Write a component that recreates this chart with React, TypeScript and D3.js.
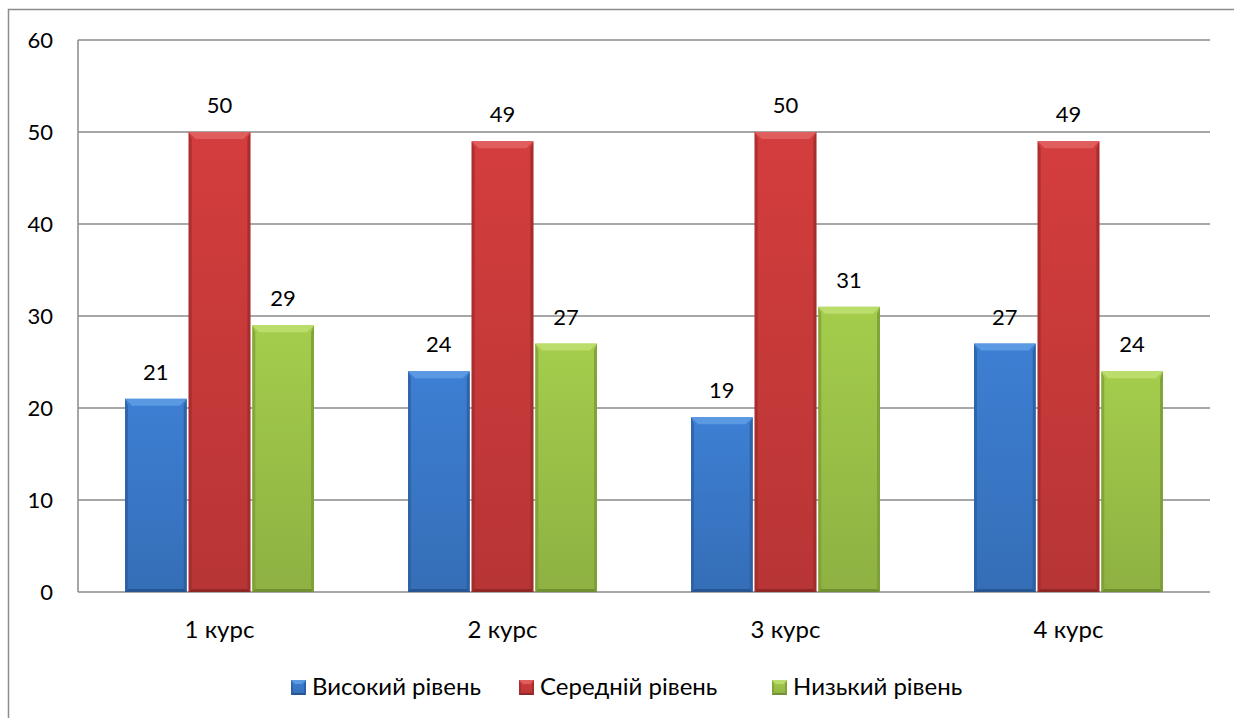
import React from 'react';
import * as d3 from 'd3';

const categories = ['1 курс', '2 курс', '3 курс', '4 курс'];
const seriesNames = ['Високий рівень', 'Середній рівень', 'Низький рівень'];
const highLevel = [21, 24, 19, 27];
const midLevel = [50, 49, 50, 49];
const lowLevel = [29, 27, 31, 24];
const yTicks = [0, 10, 20, 30, 40, 50, 60];

const palette = [
  { main: '#3a78c8', top: '#5b9ae2', side: '#2b5c9e', bottom: '#244f88' },
  { main: '#c93a3a', top: '#e05e5e', side: '#9c2b2b', bottom: '#862424' },
  { main: '#9bc248', top: '#bbdd6c', side: '#7a9a36', bottom: '#6a862e' },
];

const FONT = 'Lato, "Open Sans", sans-serif';

function Bevel({ x, y, w, h, c, id, b0 = 7, s = 3 }: { x: number; y: number; w: number; h: number; c: typeof palette[0]; id: string; b0?: number; s?: number }) {
  const b = Math.min(b0, h / 2);
  return (
    <g>
      <rect x={x} y={y} width={w} height={h} fill={`url(#${id})`} />
      <polygon points={`${x},${y} ${x + w},${y} ${x + w - b},${y + b} ${x + b},${y + b}`} fill={c.top} />
      <polygon points={`${x},${y} ${x + s},${y + b} ${x + s},${y + h - s} ${x},${y + h}`} fill={c.side} opacity={0.7} />
      <polygon points={`${x + w},${y} ${x + w - s},${y + b} ${x + w - s},${y + h - s} ${x + w},${y + h}`} fill={c.side} opacity={0.8} />
      <polygon points={`${x},${y + h} ${x + s},${y + h - s} ${x + w - s},${y + h - s} ${x + w},${y + h}`} fill={c.bottom} opacity={0.8} />
    </g>
  );
}

export default function App() {
  const width = 1234;
  const height = 718;
  const left = 78;
  const right = 1210;
  const top = 40;
  const bottom = 592;

  const data = [highLevel, midLevel, lowLevel];

  const y = d3.scaleLinear().domain([0, 60]).range([bottom, top]);
  const x0 = d3.scaleBand<string>().domain(categories).range([left, right]).padding(0);
  const bw = x0.bandwidth();
  const groupW = 189;
  const x1 = d3
    .scaleBand<string>()
    .domain(seriesNames)
    .range([(bw - groupW) / 2, (bw + groupW) / 2])
    .paddingInner(0.03);

  const legendX = [291, 519, 772];

  return (
    <div style={{ position: 'absolute', left: 0, top: 0 }}>
      <svg width={width} height={height} style={{ display: 'block', background: '#fff' }}>
        <defs>
          {palette.map((c, i) => (
            <linearGradient key={i} id={`g${i}`} x1="0" y1="0" x2="0" y2="1">
              <stop offset="0" stopColor={d3.color(c.main)!.brighter(0.15).formatHex()} />
              <stop offset="1" stopColor={d3.color(c.main)!.darker(0.25).formatHex()} />
            </linearGradient>
          ))}
        </defs>

        {/* outer border */}
        <rect x={8.5} y={9.5} width={1240} height={720} fill="none" stroke="#8c8c8c" strokeWidth={1.5} />

        {/* gridlines */}
        {yTicks.map(t => (
          <line key={t} x1={left} x2={right} y1={y(t)} y2={y(t)} stroke="#8a8a8a" strokeWidth={1.5} />
        ))}
        <line x1={left} x2={left} y1={top} y2={bottom} stroke="#8a8a8a" strokeWidth={1.5} />

        {/* y labels */}
        {yTicks.map(t => (
          <text key={t} x={53} y={y(t)} dy="0.35em" textAnchor="end" fontFamily={FONT} fontSize={22} fill="#000">
            {t}
          </text>
        ))}

        {/* bars */}
        {categories.map((cat, ci) =>
          seriesNames.map((s, si) => {
            const v = data[si][ci];
            const bx = (x0(cat) ?? 0) + (x1(s) ?? 0);
            const by = y(v);
            const w = x1.bandwidth();
            return (
              <g key={`${ci}-${si}`}>
                <Bevel x={bx} y={by} w={w} h={bottom - by} c={palette[si]} id={`g${si}`} />
                <text x={bx + w / 2} y={by - 19} textAnchor="middle" fontFamily={FONT} fontSize={22} fill="#000">
                  {v}
                </text>
              </g>
            );
          })
        )}

        {/* category labels */}
        {categories.map(cat => (
          <text key={cat} x={(x0(cat) ?? 0) + bw / 2} y={630} dy="0.35em" textAnchor="middle" fontFamily={FONT} fontSize={24} fill="#000">
            {cat}
          </text>
        ))}

        {/* legend */}
        {seriesNames.map((s, i) => (
          <g key={s}>
            <Bevel x={legendX[i]} y={680} w={15} h={15} c={palette[i]} id={`g${i}`} b0={4} s={2} />
            <text x={legendX[i] + 21} y={687} dy="0.35em" fontFamily={FONT} fontSize={24} fill="#000">
              {s}
            </text>
          </g>
        ))}
      </svg>
    </div>
  );
}
